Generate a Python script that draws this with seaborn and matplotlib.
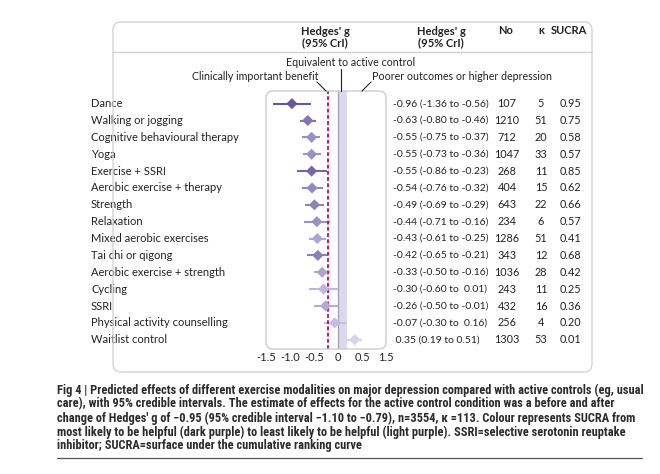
import numpy as np
import pandas as pd
import matplotlib
matplotlib.use("Agg")
import matplotlib.pyplot as plt
import seaborn as sns
from matplotlib.patches import FancyBboxPatch
from matplotlib.colors import LinearSegmentedColormap
from matplotlib.lines import Line2D
from matplotlib import font_manager
import matplotlib.transforms as mtransforms

treatments = ['Dance', 'Walking or jogging', 'Cognitive behavioural therapy', 'Yoga',
              'Exercise + SSRI', 'Aerobic exercise + therapy', 'Strength', 'Relaxation',
              'Mixed aerobic exercises', 'Tai chi or qigong', 'Aerobic exercise + strength',
              'Cycling', 'SSRI', 'Physical activity counselling', 'Waitlist control']
g = [-0.96, -0.63, -0.55, -0.55, -0.55, -0.54, -0.49, -0.44, -0.43, -0.42, -0.33, -0.30, -0.26, -0.07, 0.35]
lo = [-1.36, -0.80, -0.75, -0.73, -0.86, -0.76, -0.69, -0.71, -0.61, -0.65, -0.50, -0.60, -0.50, -0.30, 0.19]
hi = [-0.56, -0.46, -0.37, -0.36, -0.23, -0.32, -0.29, -0.16, -0.25, -0.21, -0.16, 0.01, -0.01, 0.16, 0.51]
n_obs = [107, 1210, 712, 1047, 268, 404, 643, 234, 1286, 343, 1036, 243, 432, 256, 1303]
kappa = [5, 51, 20, 33, 11, 15, 22, 6, 51, 12, 28, 11, 16, 4, 53]
sucra = [0.95, 0.75, 0.58, 0.57, 0.85, 0.62, 0.66, 0.57, 0.41, 0.68, 0.42, 0.25, 0.36, 0.20, 0.01]
est_labels = ['-0.96 (-1.36 to -0.56)', '-0.63 (-0.80 to -0.46)', '-0.55 (-0.75 to -0.37)',
              '-0.55 (-0.73 to -0.36)', '-0.55 (-0.86 to -0.23)', '-0.54 (-0.76 to -0.32)',
              '-0.49 (-0.69 to -0.29)', '-0.44 (-0.71 to -0.16)', '-0.43 (-0.61 to -0.25)',
              '-0.42 (-0.65 to -0.21)', '-0.33 (-0.50 to -0.16)', '-0.30 (-0.60 to  0.01)',
              '-0.26 (-0.50 to -0.01)', '-0.07 (-0.30 to  0.16)', ' 0.35 (0.19 to 0.51)']
xticks = [-1.5, -1.0, -0.5, 0, 0.5, 1.0]
xtick_labels = ['-1.5', '-1.0', '-0.5', '0', '0.5', '1.5']
caption = [
    "Fig 4 | Predicted effects of different exercise modalities on major depression compared with active controls (eg, usual",
    "care), with 95% credible intervals. The estimate of effects for the active control condition was a before and after",
    "change of Hedges' g of \u22120.95 (95% credible interval \u22121.10 to \u22120.79), n=3554, \u03ba =113. Colour represents SUCRA from",
    "most likely to be helpful (dark purple) to least likely to be helpful (light purple). SSRI=selective serotonin reuptake",
    "inhibitor; SUCRA=surface under the cumulative ranking curve",
]

df = pd.DataFrame({'treatment': treatments, 'g': g, 'lo': lo, 'hi': hi,
                   'sucra': sucra, 'row': np.arange(len(treatments))})

sns.set_theme(style='white')
plt.rcParams['font.family'] = ['Lato', 'DejaVu Sans']
TXT = '#222222'

# narrow face for the caption, if one is installed
installed = {f.name for f in font_manager.fontManager.ttflist}
cap_font = 'Lato'
for name in ['Liberation Sans Narrow', 'Roboto Condensed', 'Open Sans Condensed',
             'Noto Sans Condensed', 'DejaVu Sans Condensed', 'Lato']:
    if name in installed:
        cap_font = name
        break

W, H = 660, 474
fig = plt.figure(figsize=(W / 100, H / 100), dpi=100)

def fx(x):
    return x / W

def fy(y):
    return 1 - y / H

# outer rounded frame
fig.patches.append(FancyBboxPatch((1.13, (H - 372) / 100), 4.79, 3.50,
                                  boxstyle='round,pad=0,rounding_size=0.08',
                                  transform=fig.dpi_scale_trans, fc='none',
                                  ec='#cfcfcf', lw=0.9))
fig.lines.append(Line2D([fx(113), fx(592)], [fy(52), fy(52)], transform=fig.transFigure,
                        color='#cfcfcf', lw=0.9))

ax = fig.add_axes([fx(266), fy(349), fx(386) - fx(266), fy(91) - fy(349)])
ax.set_xlim(-1.47, 0.95)
ax.set_ylim(14.55, -0.75)
for s in ax.spines.values():
    s.set_visible(False)
ax.patch.set_visible(False)
fig.patches.append(FancyBboxPatch((2.66, (H - 349) / 100), 1.20, 2.58,
                                  boxstyle='round,pad=0,rounding_size=0.07',
                                  transform=fig.dpi_scale_trans, fc='none',
                                  ec='#c8c8c8', lw=0.9))

cmap = LinearSegmentedColormap.from_list('sucra', ['#d9d3ea', '#a59bcb', '#5f4f9a'])
ax.axvspan(0, 0.19, color='#dcd9ee', lw=0, zorder=1)
ax.axvline(0, color='#a7a3bd', lw=1.0, zorder=2)
ax.axvline(-0.21, color='#c0187c', lw=1.4, ls=(0, (2, 1.2)), zorder=4)

colors = [cmap(s) for s in sucra]
ax.hlines(df['row'], df['lo'], df['hi'], colors=colors, lw=1.5, zorder=3)
sns.scatterplot(data=df, x='g', y='row', hue='sucra', palette=cmap, hue_norm=(0, 1),
                marker='D', s=32, edgecolor='none', legend=False, ax=ax, zorder=5)
ax.set_xlabel('')
ax.set_ylabel('')
ax.set_yticks([])
ax.set_xticks(xticks)
ax.set_xticklabels(xtick_labels, fontsize=8, color=TXT)
ax.tick_params(axis='x', length=0, pad=2)

# table text per row
tr = mtransforms.blended_transform_factory(fig.transFigure, ax.transData)
for i in range(len(treatments)):
    ax.text(fx(91), i, treatments[i], transform=tr, ha='left', va='center', fontsize=8, color=TXT)
    ax.text(fx(393), i, est_labels[i], transform=tr, ha='left', va='center', fontsize=7.5, color=TXT)
    ax.text(fx(507), i, str(n_obs[i]), transform=tr, ha='center', va='center', fontsize=7.8, color=TXT)
    ax.text(fx(541), i, str(kappa[i]), transform=tr, ha='center', va='center', fontsize=7.8, color=TXT)
    ax.text(fx(570), i, f'{sucra[i]:.2f}', transform=tr, ha='center', va='center', fontsize=7.8, color=TXT)

# headers
for x, t in [(325, "Hedges' g\n(95% CrI)"), (441, "Hedges' g\n(95% CrI)")]:
    fig.text(fx(x), fy(37), t, ha='center', va='center', fontsize=8, fontweight='bold',
             color=TXT, linespacing=1.0)
for x, t in [(506, 'No'), (541, '\u03ba'), (569, 'SUCRA')]:
    fig.text(fx(x), fy(31), t, ha='center', va='center', fontsize=8, fontweight='bold', color=TXT)

# annotations
fig.text(fx(351), fy(63), 'Equivalent to active control', ha='center', va='center', fontsize=7.7, color=TXT)
fig.text(fx(318), fy(77), 'Clinically important benefit', ha='right', va='center', fontsize=7.7, color=TXT)
fig.text(fx(372), fy(77), 'Poorer outcomes or higher depression', ha='left', va='center', fontsize=7.7, color=TXT)
for (x0, y0), (x1, y1) in [((341, 69), (341, 91)), ((317, 82), (326, 91)), ((371, 82), (362, 91))]:
    fig.lines.append(Line2D([fx(x0), fx(x1)], [fy(y0), fy(y1)], transform=fig.transFigure,
                            color=TXT, lw=0.8))

# caption, first line fitted to the width seen in the picture
renderer = fig.canvas.get_renderer()
cap_texts = []
for k, line in enumerate(caption):
    cap_texts.append(fig.text(fx(57), fy(390 + k * 14), line, ha='left', va='center',
                              fontsize=8.5, fontweight='semibold', color='#2b2b2b',
                              family=[cap_font, 'DejaVu Sans']))
w0 = cap_texts[0].get_window_extent(renderer).width
size = 8.5 * 583 / w0
for t in cap_texts:
    t.set_fontsize(size)
fig.lines.append(Line2D([fx(57), fx(642)], [fy(458), fy(458)], transform=fig.transFigure,
                        color='#555555', lw=0.9))

fig.savefig('out.png', dpi=100)
